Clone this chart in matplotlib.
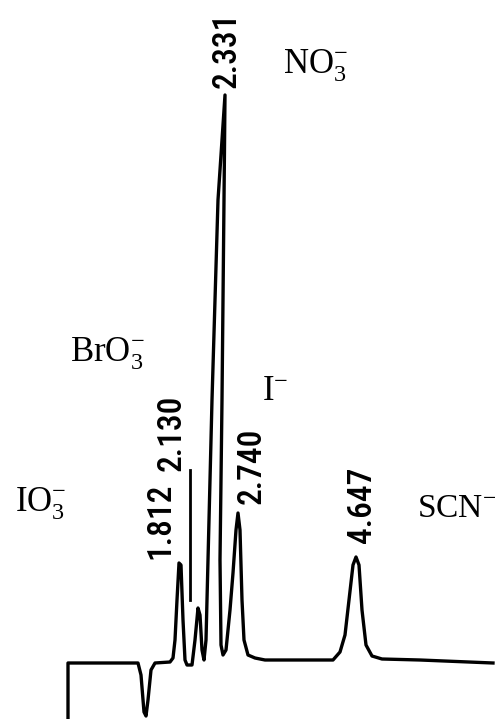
import matplotlib
matplotlib.use("Agg")
import matplotlib.pyplot as plt

plt.rcParams['mathtext.fontset'] = 'custom'
plt.rcParams['mathtext.rm'] = 'Liberation Serif'
plt.rcParams['mathtext.it'] = 'Liberation Serif:italic'

# Chromatogram trace (position along chart, detector signal)
trace_x = [68, 68, 138, 141, 144, 146, 148, 151, 155, 170, 173, 175, 177, 179, 181,
           183, 185, 187, 192, 195, 198, 200, 202, 204, 206, 208, 212, 218, 225, 224,
           222, 220, 221, 223, 226, 230, 233, 236, 238, 240, 242, 244, 248, 255, 265,
           333, 340, 345, 349, 353, 356, 359, 362, 366, 372, 382, 420, 493]
trace_y = [0, 56, 56, 44, 7, 3, 19, 49, 56, 57, 61, 79, 119, 156, 154,
           99, 59, 54, 54, 79, 111, 104, 69, 59, 79, 159, 319, 519, 624, 519,
           319, 159, 74, 64, 69, 109, 146, 189, 206, 189, 119, 79, 64, 61, 59,
           59, 67, 84, 119, 154, 162, 154, 109, 74, 63, 60, 59, 56]

# Retention time labels
rt_labels = ["1.812", "2.130", "2.331", "2.740", "4.647"]
rt_pos = [(160, 198), (172, 286), (227, 669), (252, 253), (362, 214)]

# Ion labels
ion_labels = [r"IO$_3^{-}$", r"BrO$_3^{-}$", r"NO$_3^{-}$", r"I$^{-}$", r"SCN$^{-}$"]
ion_pos = [(15, 207), (70, 357), (283, 646), (262, 319), (417, 202)]

W, H = 497, 719
fig = plt.figure(figsize=(W / 100, H / 100), dpi=100)
ax = fig.add_axes([0, 0, 1, 1])
ax.set_xlim(0, W)
ax.set_ylim(0, H)
ax.axis('off')

ax.plot(trace_x, trace_y, color='black', lw=2.4, solid_joinstyle='round')
# marker line under 2.130 label
ax.plot([190, 190], [119, 249], color='black', lw=2.0)

for lab, (x, y) in zip(rt_labels, rt_pos):
    ax.text(x, y, lab, rotation=90, ha='center', va='center', fontsize=24,
            family=['Roboto Condensed', 'DejaVu Sans'], fontweight='medium',
            color='black')

for i, (lab, (x, y)) in enumerate(zip(ion_labels, ion_pos)):
    ax.text(x, y, lab, ha='left', va='baseline',
            fontsize=24 if lab.startswith('SCN') else 25,
            family=['Liberation Serif', 'DejaVu Serif'], color='black')

fig.savefig('out.png', dpi=100, facecolor='white')
